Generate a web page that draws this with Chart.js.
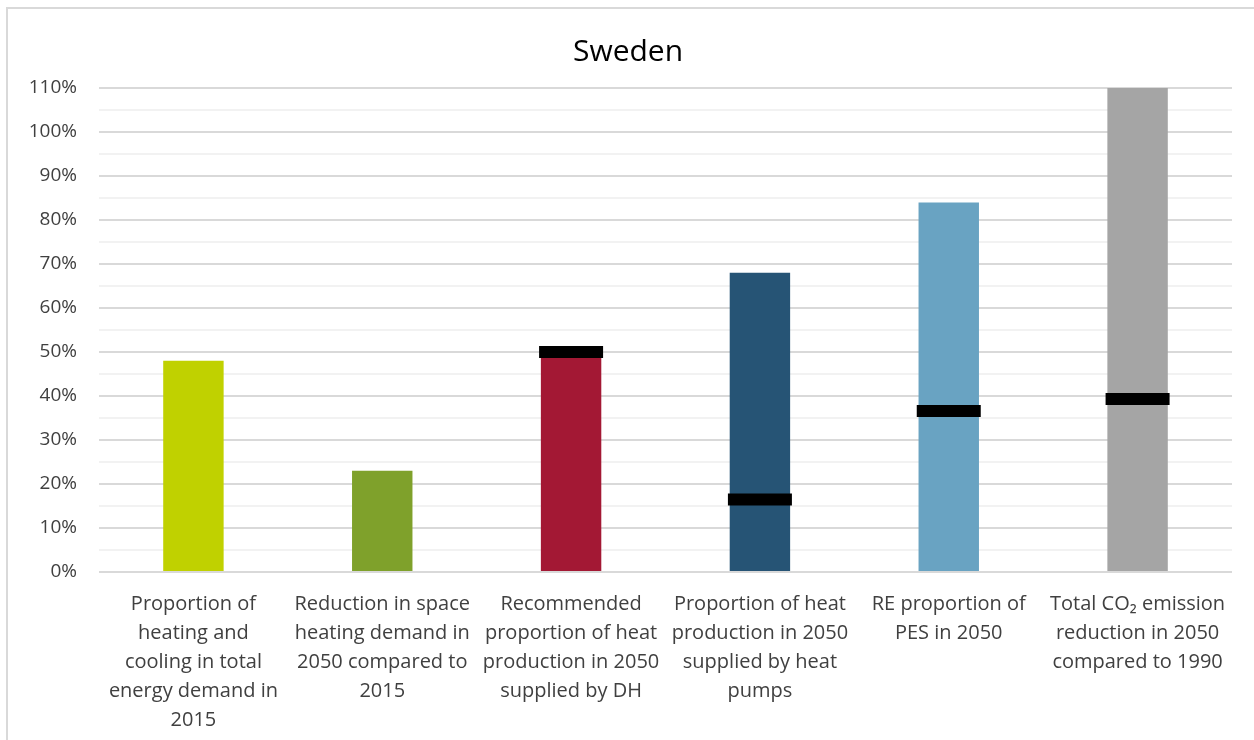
<!DOCTYPE html>
<html>
<head>
<meta charset="utf-8">
<script src="https://cdn.jsdelivr.net/npm/chart.js@4/dist/chart.umd.min.js"></script>
<style>
  body{margin:0;background:#fff;}
  #marco{position:absolute;left:6px;top:7px;width:1300px;height:800px;border-left:2px solid #d9d9d9;border-top:2px solid #d9d9d9;}
  #caja{position:absolute;left:0;top:0;width:1254px;height:740px;}
</style>
</head>
<body>
<div id="marco"></div>
<div id="caja"><canvas id="myChart"></canvas></div>
<script>
const categorias = [
    ['Proportion of','heating and','cooling in total','energy demand in','2015'],
    ['Reduction in space','heating demand in','2050 compared to','2015'],
    ['Recommended','proportion of heat','production in 2050','supplied by DH'],
    ['Proportion of heat','production in 2050','supplied by heat','pumps'],
    ['RE proportion of','PES in 2050'],
    ['Total CO\u2082 emission','reduction in 2050','compared to 1990']
];
const valores = [48, 23, 50, 68, 84, 110];
const marcas = [null, null, 50, 16.5, 36.6, 39.3];
const colores = ['#C0D100','#7FA12B','#A31834','#265475','#69A3C2','#A5A5A5'];
const ticksY = [0,10,20,30,40,50,60,70,80,90,100,110];

const fuente = "'Open Sans', 'Noto Sans', sans-serif";

const data={
    labels: categorias,
    datasets: [{
        type: 'line',
        label: 'marca',
        data: marcas,
        showLine: false,
        pointStyle: 'line',
        pointRadius: 32,
        pointHoverRadius: 32,
        borderColor: '#000',
        pointBorderColor: '#000',
        pointBorderWidth: 12,
        pointHoverBorderWidth: 12,
        order: 0
    },{
        type: 'bar',
        label: 'valor',
        data: valores,
        backgroundColor: colores,
        barPercentage: 0.32,
        categoryPercentage: 1,
        order: 1
    }]
};

const config={
    type: 'bar',
    data,
    options: {
        responsive: false,
        animation: false,
        layout: { autoPadding: false, padding: {top: 8, left: 24, right: 22, bottom: 0} },
        plugins: {
            legend: {display: false},
            tooltip: {enabled: false},
            title: {
                display: true,
                text: 'Sweden',
                color: '#000',
                font: {family: fuente, size: 30, weight: 'normal'},
                padding: {top: 26, bottom: 18}
            }
        },
        scales: {
            x: {
                grid: {display: false},
                border: {display: false},
                afterFit: (s) => {
                    s.paddingLeft = 0;
                    s.paddingRight = 0;
                    s.height = 168;
                },
                ticks: {
                    color: '#404040',
                    font: {family: fuente, size: 20, lineHeight: 1.45},
                    padding: 10,
                    maxRotation: 0,
                    autoSkip: false
                }
            },
            y: {
                min: 0,
                max: 110,
                border: {display: false},
                afterFit: (s) => { s.width = 75; },
                grid: {
                    drawTicks: false,
                    color: (c) => (c.tick && ticksY.includes(c.tick.value)) ? '#d9d9d9' : '#f2f2f2',
                    lineWidth: 2
                },
                ticks: {
                    stepSize: 5,
                    autoSkip: false,
                    padding: 22,
                    color: '#404040',
                    font: {family: fuente, size: 19},
                    callback: (v) => ticksY.includes(v) ? v + '%' : ''
                }
            }
        }
    }
};

const ctx = document.getElementById('myChart');
ctx.width = 1254;
ctx.height = 740;
const myChart = new Chart(ctx, config);
</script>
</body>
</html>
